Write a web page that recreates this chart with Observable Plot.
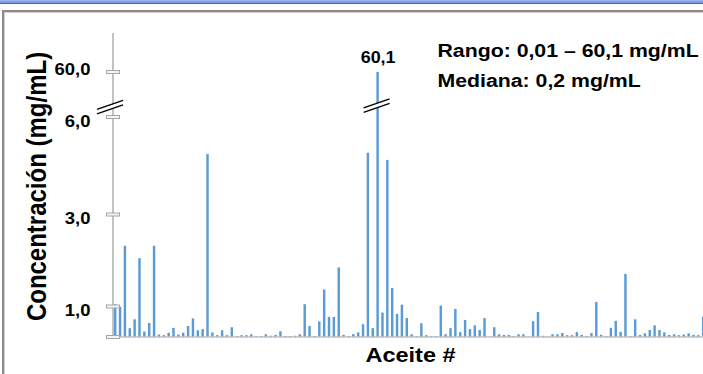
<!DOCTYPE html>
<html><head><meta charset="utf-8">
<script src="https://cdn.jsdelivr.net/npm/d3@7"></script>
<script src="https://cdn.jsdelivr.net/npm/@observablehq/plot@0.6"></script>
<style>
html,body{margin:0;padding:0;background:#fff;width:703px;height:374px;overflow:hidden;position:relative;}
#band{position:absolute;left:0;top:0;width:703px;height:3px;background:linear-gradient(#a3b8ee,#6f8fdc);border-bottom:1px solid #4a6cc4;}
#frame{position:absolute;left:2px;top:10px;width:760px;height:420px;border-top:2px solid #8a8a8a;border-left:2px solid #8a8a8a;box-shadow:inset 1px 1px 0 #d2d2d2;}
#chart{position:absolute;left:0;top:0;}
</style></head><body>
<div id="band"></div><div id="frame"></div><div id="chart"></div>
<script>
// Oil number (Aceite #) and concentration (mg/mL)
const aceites = d3.range(1, 123);
const concentracion = [
  1.05, 0.99, 2.32, 0.29, 0.58, 2.05, 0.18, 0.46, 2.32, 0.08,
  0.06, 0.14, 0.30, 0.08, 0.14, 0.36, 0.61, 0.22, 0.26, 4.86,
  0.15, 0.06, 0.22, 0.06, 0.32, 0.03, 0.06, 0.06, 0.09, 0.02,
  0.03, 0.09, 0.04, 0.07, 0.19, 0.03, 0.03, 0.04, 0.09, 1.05,
  0.36, 0.03, 0.51, 1.37, 0.66, 0.66, 1.85, 0.07, 0.03, 0.10,
  0.15, 0.42, 4.90, 0.29, 60.1, 0.80, 4.68, 1.40, 0.76, 1.04,
  0.62, 0.09, 0.03, 0.45, 0.06, 0.03, 0.03, 1.02, 0.09, 0.29,
  0.92, 0.16, 0.56, 0.26, 0.38, 0.23, 0.62, 0.01, 0.32, 0.09,
  0.07, 0.07, 0.03, 0.09, 0.09, 0.01, 0.52, 0.82, 0.04, 0.02,
  0.09, 0.09, 0.13, 0.06, 0.06, 0.16, 0.07, 0.03, 0.13, 1.10,
  0.07, 0.03, 0.30, 0.53, 0.17, 1.71, 0.03, 0.58, 0.07, 0.12,
  0.23, 0.38, 0.23, 0.15, 0.07, 0.09, 0.06, 0.08, 0.12, 0.07,
  0.06, 0.66
];
const yTickValues = [0, 1, 3, 6, 60];
const yTickLabels = ["", "1,0", "3,0", "6,0", "60,0"];
const breakValue = 19;          // where the broken axis is drawn (between 6 and 60)
const maxAceite = 55;           // the 60,1 mg/mL oil
const maxLabel = "60,1";
const yTitle = "Concentración (mg/mL)";
const xTitle = "Aceite #";
const note1 = "Rango: 0,01 – 60,1 mg/mL";
const note2 = "Mediana: 0,2 mg/mL";

const data = aceites.map((a, i) => ({aceite: a, conc: concentracion[i]}));
const ticks = yTickValues.map((v, i) => ({v, label: yTickLabels[i]}));
const FONT = "Liberation Sans, Arial, Helvetica, sans-serif";
const BLUE = "#5b9bd5";

function decorations(index, scales, values, dims, context) {
  const doc = (context && context.document) || document;
  const NS = "http://www.w3.org/2000/svg";
  const g = doc.createElementNS(NS, "g");
  const el = (name, attrs) => {
    const e = doc.createElementNS(NS, name);
    for (const k in attrs) e.setAttribute(k, attrs[k]);
    g.appendChild(e);
    return e;
  };
  const x = scales.x, y = scales.y;
  const ax = dims.marginLeft;
  const y0 = y(0);
  // axes lines
  el("line", {x1: ax, x2: dims.width, y1: y0, y2: y0, stroke: "#bfbfbf", "stroke-width": 1.6});
  el("line", {x1: ax, x2: ax, y1: dims.marginTop, y2: y0, stroke: "#c3c3c3", "stroke-width": 2});
  // tick boxes
  for (const t of yTickValues) {
    el("rect", {x: ax - 6.5, y: y(t) - 1.5, width: 13, height: 3, fill: "#f4f4f4", stroke: "#a6a6a6", "stroke-width": 1});
  }
  // break symbols
  const brk = (cx, cy, hw, rise, gap) => {
    const p = [[cx - hw, cy + rise - gap / 2], [cx + hw, cy - rise - gap / 2], [cx + hw, cy - rise + gap / 2], [cx - hw, cy + rise + gap / 2]];
    el("polygon", {points: p.map(d => d.join(",")).join(" "), fill: "#fff"});
    el("line", {x1: p[0][0], y1: p[0][1], x2: p[1][0], y2: p[1][1], stroke: "#000", "stroke-width": 1.4});
    el("line", {x1: p[3][0], y1: p[3][1], x2: p[2][0], y2: p[2][1], stroke: "#000", "stroke-width": 1.4});
  };
  const yb = y(breakValue);
  brk(ax - 3, yb + 1, 13, 4.5, 4.5);
  const bw = typeof x.bandwidth === "function" ? x.bandwidth() : 0;
  brk(x(maxAceite) + bw / 2 - 1, yb - 0.5, 13, 4.5, 4.5);
  return g;
}

const chart = Plot.plot({
  width: 703,
  height: 374,
  marginTop: 33,
  marginLeft: 113,
  marginRight: 0,
  marginBottom: 37,
  style: {background: "transparent", overflow: "visible", fontFamily: FONT},
  x: {type: "band", domain: aceites, range: [113, 705.4], paddingInner: 0.5, paddingOuter: 0.2, round: false, axis: null},
  y: {type: "linear", domain: yTickValues, range: [337, 306.5, 214.5, 117, 72], axis: null},
  marks: [
    Plot.barY(data, {x: "aceite", y: "conc", fill: BLUE}),
    decorations,
    Plot.text(ticks.filter(d => d.label && d.v !== 60), {y: "v", text: "label", frameAnchor: "left", textAnchor: "end", dx: -23, dy: 4, fontSize: 16.5, fontWeight: "bold", fill: "#000"}),
    Plot.text(ticks.filter(d => d.v === 60), {y: "v", text: "label", frameAnchor: "left", textAnchor: "end", dx: -23, dy: -2.5, fontSize: 16.5, fontWeight: "bold", fill: "#000"}),
    Plot.text([yTitle], {frameAnchor: "left", textAnchor: "middle", lineAnchor: "middle", dx: -76.5, dy: 1, rotate: -90, fontSize: 24, fontWeight: "bold", fill: "#000"}),
    Plot.text([xTitle], {frameAnchor: "bottom", textAnchor: "middle", lineAnchor: "top", dx: 2, dy: 10, fontSize: 21, fontWeight: "bold", fill: "#000"}),
    Plot.text(data.filter(d => d.aceite === maxAceite), {x: "aceite", y: "conc", text: () => maxLabel, textAnchor: "middle", dy: -15, fontSize: 16, fontWeight: "bold", fill: "#000"}),
    Plot.text([note1], {frameAnchor: "top-left", textAnchor: "start", lineAnchor: "top", dx: 324, dy: 10, fontSize: 19, fontWeight: "bold", fill: "#000"}),
    Plot.text([note2], {frameAnchor: "top-left", textAnchor: "start", lineAnchor: "top", dx: 324, dy: 40, fontSize: 19, fontWeight: "bold", fill: "#000"})
  ]
});

// the reference's lettering is slightly widened horizontally
const S = 1.12;
chart.querySelectorAll("text").forEach(t => {
  const tr = t.getAttribute("transform");
  if (tr) {
    t.setAttribute("transform", tr + (tr.includes("rotate") ? ` scale(1,${S})` : ` scale(${S},1)`));
  } else {
    const x = parseFloat(t.getAttribute("x")) || 0, yv = parseFloat(t.getAttribute("y")) || 0;
    t.setAttribute("transform", `translate(${x},${yv}) scale(${S},1) translate(${-x},${-yv})`);
  }
});
document.getElementById("chart").appendChild(chart);
</script>
</body></html>
